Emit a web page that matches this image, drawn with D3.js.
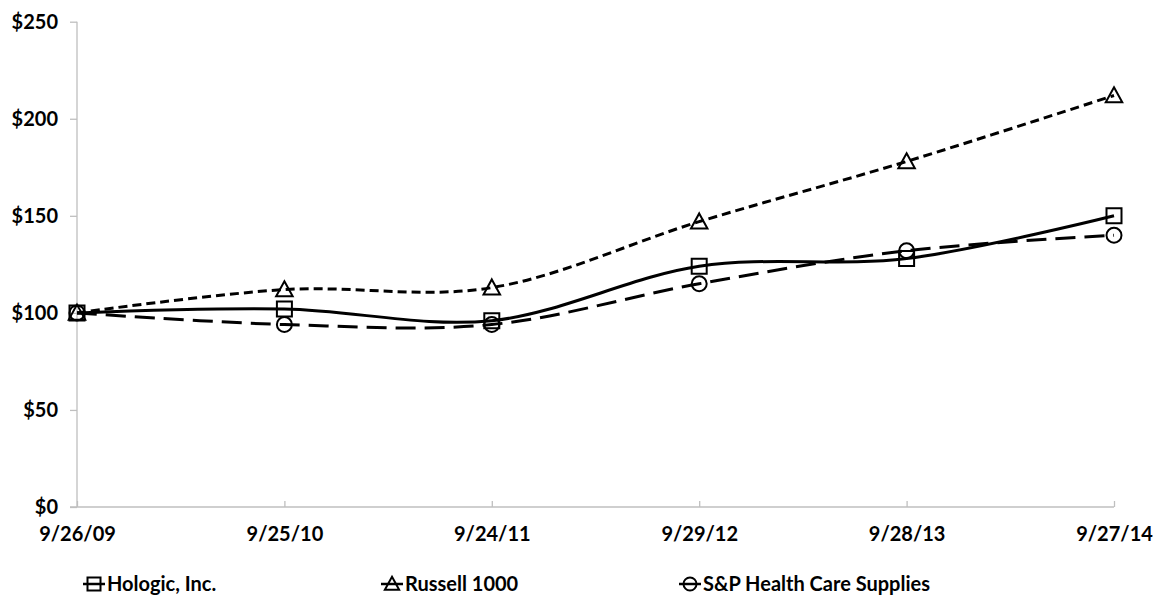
<!DOCTYPE html>
<html>
<head>
<meta charset="utf-8">
<script src="https://cdn.jsdelivr.net/npm/d3@7"></script>
<style>
    body { margin: 0; background: #fff; }
    text { font-family: Lato, "Open Sans", sans-serif; font-weight: bold; fill: #000; }
</style>
</head>
<body>
<svg class="main"></svg>
<script>
var dates = ["9/26/09", "9/25/10", "9/24/11", "9/29/12", "9/28/13", "9/27/14"],
    hologic = [100, 102, 96, 124, 128, 150],
    russell = [100, 112, 113, 147, 178, 212],
    spHealth = [100, 94, 94, 115, 132, 140],
    yTicks = [0, 50, 100, 150, 200, 250];

var canvas = {
        width: 1157,
        height: 612,
        margin: { top: 21.7, right: 43, bottom: 105, left: 77 }
    },
    fontSize = 20,
    axisColor = "#bfbfbf";

var series = [
    { name: "Hologic, Inc.", values: hologic, marker: "square", dash: null },
    { name: "Russell 1000", values: russell, marker: "triangle", dash: "9,5" },
    { name: "S&P Health Care Supplies", values: spHealth, marker: "circle", dash: "20,9" }
];

var svg = d3.select(".main")
    .attr("width", canvas.width)
    .attr("height", canvas.height);

var x = d3.scalePoint()
    .domain(dates)
    .range([canvas.margin.left, canvas.width - canvas.margin.right]);

var y = d3.scaleLinear()
    .domain([0, 250])
    .range([canvas.height - canvas.margin.bottom, canvas.margin.top]);

// axes
var yAxis = svg.append("g")
    .attr("transform", "translate(" + canvas.margin.left + ",0)")
    .call(d3.axisLeft(y).tickValues(yTicks).tickSize(7).tickPadding(12)
        .tickFormat(function(d) { return "$" + d; }));

var xAxis = svg.append("g")
    .attr("transform", "translate(0," + y(0) + ")")
    .call(d3.axisBottom(x).tickSize(-6).tickPadding(28));

[yAxis, xAxis].forEach(function(g) {
    g.select(".domain").attr("stroke", axisColor).attr("stroke-width", 1.3);
    g.selectAll(".tick line").attr("stroke", axisColor).attr("stroke-width", 1.3);
    g.selectAll("text")
        .style("font-size", fontSize + "px");
});
xAxis.selectAll(".tick text").attr("dy", "0.3em");
yAxis.select(".domain").attr("d", "M0," + y(250) + "V" + y(0));
xAxis.select(".domain").attr("d", "M" + (canvas.margin.left - 7) + ",0H" + x(dates[dates.length - 1]));

// markers
var markerPath = {
    square: function(s) { return "M" + (-s / 2) + "," + (-s / 2) + "h" + s + "v" + s + "h" + (-s) + "Z"; },
    triangle: function(s) { return "M0," + (-s * 0.55) + "L" + (s * 0.55) + "," + (s * 0.45) + "L" + (-s * 0.55) + "," + (s * 0.45) + "Z"; },
    circle: function(s) { var r = s / 2; return "M" + (-r) + ",0a" + r + "," + r + " 0 1,0 " + (2 * r) + ",0a" + r + "," + r + " 0 1,0 " + (-2 * r) + ",0"; }
};

var line = d3.line()
    .x(function(d, i) { return x(dates[i]); })
    .y(function(d) { return y(d); })
    .curve(d3.curveCardinal.tension(0));

var groups = svg.selectAll(".series")
    .data(series).enter()
    .append("g")
    .classed("series", 1);

groups.append("path")
    .attr("d", function(d) { return line(d.values); })
    .attr("fill", "none")
    .attr("stroke", "#000")
    .attr("stroke-width", 3)
    .attr("stroke-dasharray", function(d) { return d.dash; });

groups.each(function(s) {
    d3.select(this).selectAll(".pt")
        .data(s.values).enter()
        .append("path")
        .classed("pt", 1)
        .attr("transform", function(d, i) { return "translate(" + x(dates[i]) + "," + y(d) + ")"; })
        .attr("d", markerPath[s.marker](15))
        .attr("fill", "none")
        .attr("stroke", "#000")
        .attr("stroke-width", 2);
});

// legend
var legendY = 584,
    legendX = [94, 392, 690];

var legend = svg.selectAll(".legend")
    .data(series).enter()
    .append("g")
    .classed("legend", 1)
    .attr("transform", function(d, i) { return "translate(" + legendX[i] + "," + legendY + ")"; });

legend.append("line")
    .attr("x1", -11).attr("x2", 11)
    .attr("stroke", "#000")
    .attr("stroke-width", 2.5);

legend.append("path")
    .attr("d", function(d) { return markerPath[d.marker](13); })
    .attr("fill", "none")
    .attr("stroke", "#000")
    .attr("stroke-width", 2);

legend.append("text")
    .attr("x", 13)
    .attr("dy", "0.35em")
    .style("font-size", fontSize + "px")
    .text(function(d) { return d.name; });
</script>
</body>
</html>
